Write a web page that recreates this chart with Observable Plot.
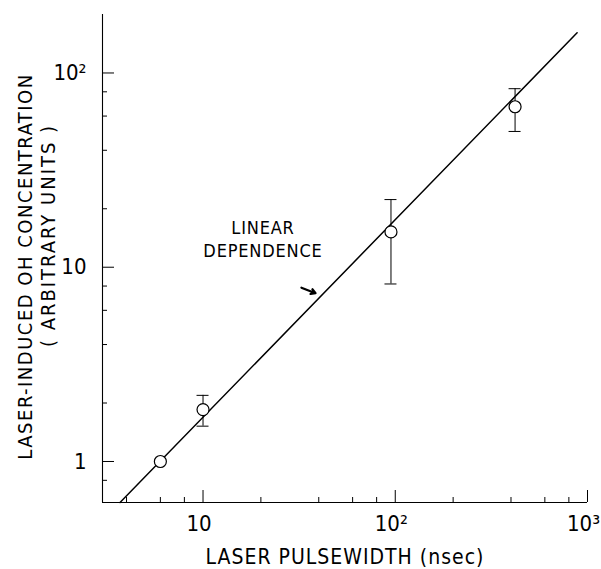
<!DOCTYPE html>
<html><head><meta charset="utf-8">
<script src="https://cdn.jsdelivr.net/npm/d3@7"></script>
<script src="https://cdn.jsdelivr.net/npm/@observablehq/plot@0.6"></script>
<style>
html,body{margin:0;padding:0;background:#fff;}
</style>
</head><body><div id="chart"></div>
<script>
// Data
const pulseWidth = [6, 10, 95, 420];          // nsec
const ohConc     = [1.0, 1.85, 15.2, 67];     // arbitrary units
const errLow     = [null, 1.52, 8.2, 50];
const errHigh    = [null, 2.19, 22.3, 83];
const fitX = [3.70, 883];                      // "linear dependence" line end points
const fitY = [0.615, 161];
const xMajor = [10, 100, 1000];
const xMajorLabels = ["10", "10²", "10³"];
const xMinor = [4, 6, 8, 20, 40, 60, 80, 200, 400, 600, 800];
const yMajor = [1, 10, 100];
const yMajorLabels = ["1", "10", "10²"];
const yMinor = [0.8, 2, 4, 6, 8, 20, 40, 60, 80];
const annotationLines = ["LINEAR", "DEPENDENCE"];
const annotationX = 20.5;
const annotationY = [15.9, 12.1];
const arrowFrom = {x: 32.5, y: 7.85};
const arrowTo = {x: 38.5, y: 7.35};
const xLabel = "LASER PULSEWIDTH (nsec)";
const yLabel1 = "LASER-INDUCED OH CONCENTRATION";
const yLabel2 = "( ARBITRARY UNITS )";

const points = pulseWidth.map((x, i) => ({x, y: ohConc[i], lo: errLow[i], hi: errHigh[i]}));
const errs = points.filter(d => d.lo != null);
const fit = fitX.map((x, i) => ({x, y: fitY[i]}));
const annot = annotationLines.map((t, i) => ({t, x: annotationX, y: annotationY[i]}));

const font = '"Liberation Sans Narrow","DejaVu Sans Condensed","Liberation Sans",sans-serif';
const W = 601, H = 569, mL = 102, mR = 14, mT = 14, mB = 67;
const fw = W - mL - mR, fh = H - mT - mB;

const chart = Plot.plot({
  width: W, height: H,
  marginLeft: mL, marginRight: mR, marginTop: mT, marginBottom: mB,
  style: {fontFamily: font, background: "#fff", color: "#000", overflow: "visible"},
  x: {type: "log", domain: [3, 1000], axis: null},
  y: {type: "log", domain: [0.615, 200], axis: null},
  marks: [
    // axis lines
    Plot.ruleX([3], {stroke: "#000", strokeWidth: 1.1}),
    Plot.ruleY([0.615], {stroke: "#000", strokeWidth: 1.1}),
    // inward ticks
    Plot.tickX(xMajor, {x: d => d, insetTop: fh - 12, stroke: "#000", strokeWidth: 1}),
    Plot.tickX(xMinor, {x: d => d, insetTop: fh - 5, stroke: "#000", strokeWidth: 1}),
    Plot.tickY(yMajor, {y: d => d, insetRight: fw - 12, stroke: "#000", strokeWidth: 1}),
    Plot.tickY(yMinor, {y: d => d, insetRight: fw - 5, stroke: "#000", strokeWidth: 1}),
    // tick labels
    Plot.text(xMajor, {x: d => d, frameAnchor: "bottom", text: (d, i) => xMajorLabels[i],
      textAnchor: "middle", lineAnchor: "top", dx: -4, dy: 13, fontSize: 22, fill: "#000"}),
    Plot.text(yMajor, {y: d => d, frameAnchor: "left", text: (d, i) => yMajorLabels[i],
      textAnchor: "end", lineAnchor: "middle", dx: -16, fontSize: 22, fill: "#000"}),
    // axis titles
    Plot.text([xLabel], {frameAnchor: "bottom", text: d => d, dy: 55, textAnchor: "middle",
      lineAnchor: "middle", fontSize: 21, fill: "#000"}),
    Plot.text([yLabel1], {frameAnchor: "left", text: d => d, rotate: -90, dx: -77, dy: 8,
      textAnchor: "middle", lineAnchor: "middle", fontSize: 20, fill: "#000"}),
    Plot.text([yLabel2], {frameAnchor: "left", text: d => d, rotate: -90, dx: -54, dy: -23,
      textAnchor: "middle", lineAnchor: "middle", fontSize: 20, fill: "#000"}),
    // fitted line
    Plot.line(fit, {x: "x", y: "y", stroke: "#000", strokeWidth: 1.5}),
    // error bars
    Plot.ruleX(errs, {x: "x", y1: "lo", y2: "hi", stroke: "#000", strokeWidth: 1}),
    Plot.ruleY(errs, {y: "hi", x1: "x", x2: "x", insetLeft: -6, insetRight: -6, stroke: "#000", strokeWidth: 1}),
    Plot.ruleY(errs, {y: "lo", x1: "x", x2: "x", insetLeft: -6, insetRight: -6, stroke: "#000", strokeWidth: 1}),
    // data points
    Plot.dot(points, {x: "x", y: "y", r: 6, stroke: "#000", fill: "#fff", strokeWidth: 1.2}),
    // annotation
    Plot.text(annot, {x: "x", y: "y", text: "t", textAnchor: "middle", lineAnchor: "middle",
      fontSize: 18, fill: "#000"}),
    Plot.arrow([{}], {x1: () => arrowFrom.x, y1: () => arrowFrom.y, x2: () => arrowTo.x, y2: () => arrowTo.y,
      headLength: 8, strokeWidth: 2.2, stroke: "#000", bend: 0})
  ]
});
// letter spacing for the hand-lettered look of the titles
const spacing = new Map([[xLabel, "1px"], [yLabel1, "1.5px"], [yLabel2, "2px"],
  [annotationLines[0], "0.8px"], [annotationLines[1], "0.8px"]]);
d3.select(chart).selectAll("text").each(function() {
  const s = spacing.get(this.textContent);
  if (s) this.style.letterSpacing = s;
});
document.getElementById("chart").appendChild(chart);
</script>
</body></html>
